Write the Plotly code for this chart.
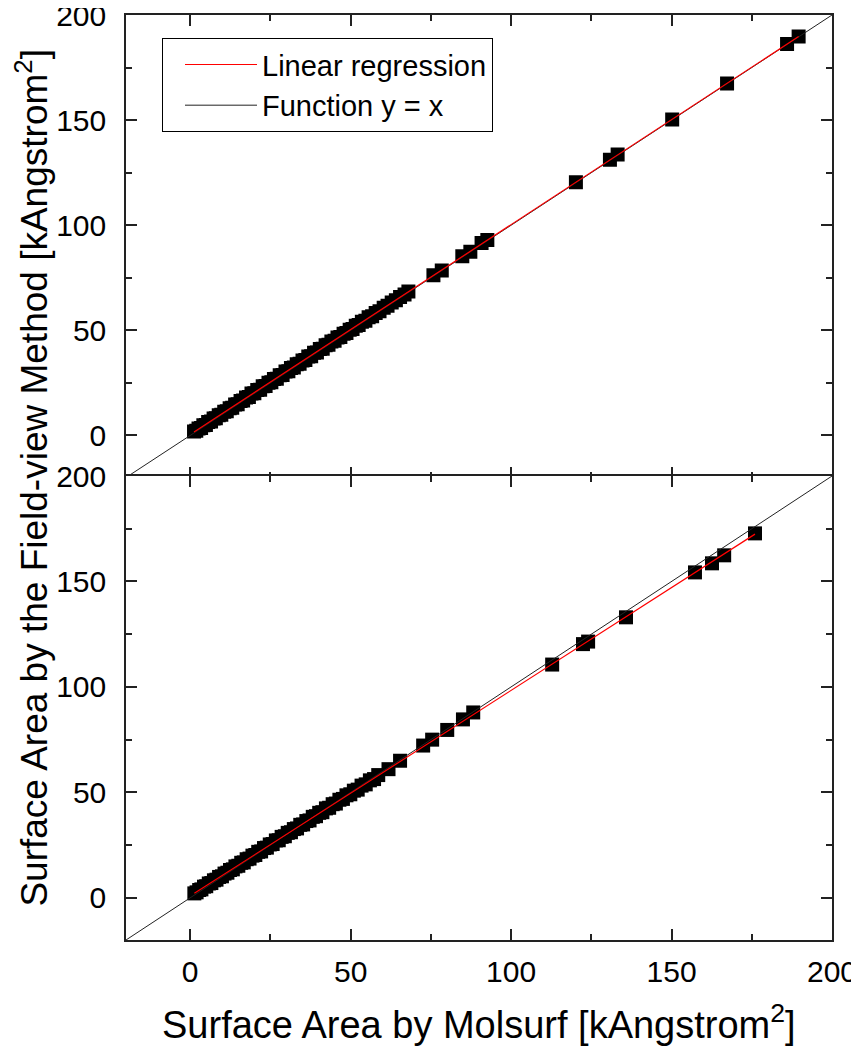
import numpy as np
import plotly.graph_objects as go
from plotly.subplots import make_subplots

# Top panel: Molsurf vs field-view (set 1)
top_x = [1.2, 1.9, 2.6, 3.4, 4.1, 4.9, 5.6, 6.5, 7.3, 8.0, 8.9, 9.7, 10.6, 11.4, 12.3,
         13.1, 14.0, 14.8, 15.7, 16.5, 17.4, 18.3, 19.1, 20.0, 20.9, 21.8, 22.6, 23.5,
         24.4, 25.3, 26.1, 27.0, 27.9, 28.8, 29.7, 30.6, 31.4, 32.3, 33.2, 34.1, 35.0,
         35.9, 36.8, 37.7, 38.6, 39.5, 40.4, 41.3, 42.2, 43.1, 44.0, 45.0, 45.9, 46.8,
         47.8, 48.7, 49.7, 50.6, 51.6, 52.5, 53.5, 54.6, 55.6, 56.7, 57.8, 59.0, 60.3,
         61.5, 62.8, 64.1, 65.4, 66.8,
         68.0, 75.8, 78.4, 84.8, 87.3, 90.8, 92.6, 120.2, 130.8, 133.2, 150.2, 167.3,
         186.0, 189.6]
top_y = [1.9, 2.2, 3.3, 3.5, 4.9, 5.0, 6.4, 6.6, 8.1, 8.2, 9.6, 9.8, 11.3, 11.5, 13.0,
         13.2, 14.7, 14.9, 16.4, 16.6, 18.1, 18.3, 19.9, 20.1, 21.6, 21.8, 23.4, 23.5,
         25.1, 25.3, 26.9, 27.0, 28.6, 28.8, 30.4, 30.6, 32.1, 32.3, 33.9, 34.1, 35.7,
         35.9, 37.5, 37.7, 39.3, 39.5, 41.1, 41.3, 42.9, 43.1, 44.7, 45.0, 46.6, 46.8,
         48.4, 48.7, 50.3, 50.6, 52.2, 52.5, 54.1, 54.6, 56.2, 56.7, 58.3, 59.1, 60.8,
         61.7, 63.3, 64.3, 65.9, 67.0,
         68.5, 76.2, 78.5, 85.3, 87.4, 91.5, 93.0, 120.5, 131.2, 133.6, 150.3, 167.4,
         186.2, 189.8]

# Bottom panel: Molsurf vs field-view (set 2)
bot_x = [1.3, 2.0, 2.8, 3.5, 4.3, 5.0, 5.8, 6.6, 7.4, 8.2, 9.0, 9.9, 10.7, 11.6, 12.4,
         13.3, 14.1, 15.0, 15.9, 16.7, 17.6, 18.5, 19.4, 20.3, 21.2, 22.1, 23.0, 23.9,
         24.8, 25.7, 26.7, 27.6, 28.5, 29.5, 30.4, 31.4, 32.3, 33.3, 34.3, 35.2, 36.2,
         37.2, 38.2, 39.2, 40.2, 41.2, 42.3, 43.3, 44.4, 45.4, 46.5, 47.6, 48.7, 49.9,
         51.0, 52.2, 53.4, 54.7, 56.0, 57.3, 58.6, 61.8, 65.4, 72.6, 75.4, 80.1, 85.0,
         88.2, 112.8, 122.4, 124.0, 135.8, 157.3, 162.6, 166.4, 176.0]
bot_y = [2.1, 2.6, 3.7, 4.0, 5.3, 5.5, 6.8, 7.0, 8.3, 8.6, 9.9, 10.2, 11.5, 11.9, 13.2,
         13.5, 14.9, 15.2, 16.6, 16.8, 18.3, 18.6, 20.0, 20.3, 21.8, 22.0, 23.6, 23.8,
         25.3, 25.5, 27.2, 27.3, 28.9, 29.2, 30.8, 31.1, 32.6, 32.9, 34.6, 34.8, 36.4,
         36.7, 38.4, 38.7, 40.3, 40.6, 42.4, 42.7, 44.4, 44.7, 46.5, 46.9, 48.6, 49.1,
         50.8, 51.3, 53.2, 53.8, 55.7, 56.3, 58.2, 61.0, 65.0, 72.2, 75.0, 79.6, 84.6,
         87.9, 110.6, 120.3, 121.5, 133.0, 154.3, 158.6, 162.4, 172.8]

axis_range = [-20, 200]
tick_vals = [0, 50, 100, 150, 200]

FONT = "Arial, Liberation Sans, sans-serif"

fig = make_subplots(rows=2, cols=1, shared_xaxes=True, vertical_spacing=0)

for row, xs, ys in [(1, top_x, top_y), (2, bot_x, bot_y)]:
    fig.add_trace(go.Scatter(
        x=xs, y=ys, mode="markers", showlegend=False,
        marker=dict(symbol="square", size=14, color="black"),
    ), row=row, col=1)
    fig.add_trace(go.Scatter(
        x=axis_range, y=axis_range, mode="lines", name="Function y = x",
        line=dict(color="#222222", width=1), showlegend=(row == 1), legendrank=2,
    ), row=row, col=1)
    slope, icpt = np.polyfit(xs, ys, 1)
    fx = np.array([min(xs), max(xs)])
    fig.add_trace(go.Scatter(
        x=fx, y=slope * fx + icpt, mode="lines", name="Linear regression",
        line=dict(color="red", width=1.2), showlegend=(row == 1), legendrank=1,
    ), row=row, col=1)

axis_style = dict(
    range=axis_range, tickvals=tick_vals, ticks="inside", ticklen=11, tickwidth=1.5,
    tickcolor="#222222", showline=True, linecolor="#222222", linewidth=1.5,
    mirror="allticks", showgrid=False, zeroline=False, automargin=False,
    minor=dict(tickvals=[-25, 25, 75, 125, 175], ticks="inside", ticklen=6,
               tickwidth=1.5, tickcolor="#222222"),
    tickfont=dict(family=FONT, size=30, color="black"),
    ticklabeloverflow="allow",
)
fig.update_xaxes(**axis_style, ticklabelstandoff=4)
fig.update_yaxes(**axis_style, ticklabelstandoff=12)
# let the two panel frames overlap on the shared middle edge
fig.update_yaxes(domain=[0, 0.5016], row=2, col=1)
fig.update_yaxes(domain=[0.5, 1], row=1, col=1)

# page body adds an 8px margin, so the figure is 8px smaller than the window
fig.update_layout(
    width=851, height=1042,
    margin=dict(l=118, r=27, t=7, b=110),
    plot_bgcolor="white", paper_bgcolor="white",
    font=dict(family=FONT, color="black"),
    legend=dict(
        x=0.051, y=0.975, xanchor="left", yanchor="top",
        bordercolor="black", borderwidth=1, bgcolor="white",
        font=dict(family=FONT, size=29), tracegroupgap=0,
        itemwidth=72, indentation=17,
    ),
    annotations=[
        dict(text="Surface Area by Molsurf [kAngstrom<sup>2</sup>]", xref="paper",
             yref="paper", x=0.5, y=-0.1168, xanchor="center", yanchor="bottom",
             showarrow=False, font=dict(family=FONT, size=38)),
        dict(text="Surface Area by the Field-view Method [kAngstrom<sup>2</sup>]",
             xref="paper", yref="paper", x=-0.133, y=0.5, xanchor="center",
             yanchor="middle", textangle=-90, showarrow=False,
             font=dict(family=FONT, size=37)),
    ],
)

fig.write_html("out.html")
